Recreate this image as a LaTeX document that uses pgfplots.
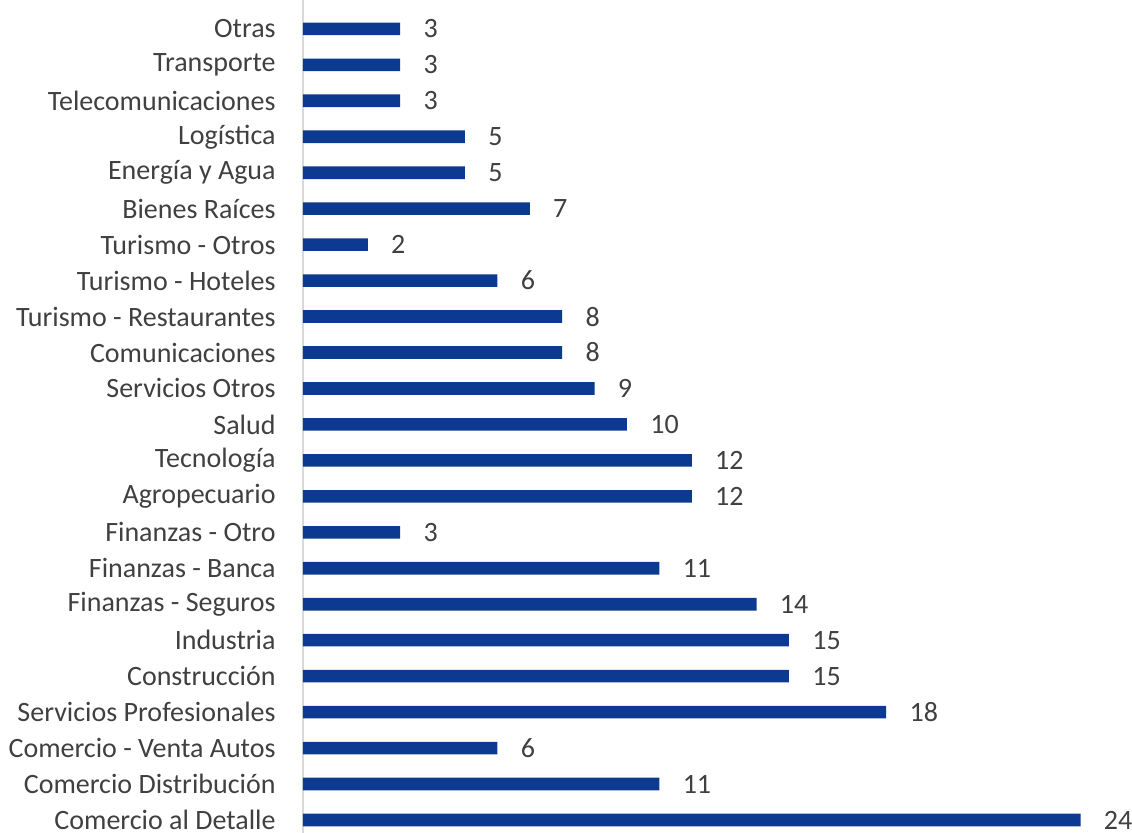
\documentclass[border=0pt]{standalone}
\usepackage{fontspec}
\setmainfont{Carlito}
\usepackage{pgfplots}
\pgfplotsset{compat=1.18}
\definecolor{barblue}{RGB}{12,58,145}
\definecolor{txtgray}{RGB}{64,64,64}
\definecolor{axgray}{RGB}{217,217,217}
\begin{document}
\begin{tikzpicture}
\begin{axis}[
    at={(0,0)}, anchor=origin,
    x=16.2pt, y=17.98pt,
    xmin=0, xmax=25.5,
    ymin=-0.35, ymax=22.8,
    xbar, bar width=6.3pt,
    axis x line=none,
    axis y line*=left,
    axis line style={axgray, line width=0.8pt, -},
    ytick={0,...,22},
    major tick length=0pt,
    /pgf/number format/assume math mode=true,
    yticklabels={Comercio al Detalle, Comercio Distribución, Comercio - Venta Autos, Servicios Profesionales, Construcción, Industria, Finanzas - Seguros, Finanzas - Banca, Finanzas - Otro, Agropecuario, Tecnología, Salud, Servicios Otros, Comunicaciones, Turismo - Restaurantes, Turismo - Hoteles, Turismo - Otros, Bienes Raíces, Energía y Agua, Logística, Telecomunicaciones, Transporte, Otras},
    yticklabel style={font=\fontsize{14}{16}\selectfont, text=txtgray, inner sep=0pt, anchor=east, xshift=-13.5pt},
    nodes near coords,
    every node near coord/.append style={font=\fontsize{14}{16}\selectfont, text=txtgray, anchor=west, inner sep=0pt, xshift=11.5pt},
    clip=false,
]
\addplot[fill=barblue, draw=none] coordinates {
    (24,0) (11,1) (6,2) (18,3) (15,4) (15,5) (14,6) (11,7) (3,8) (12,9) (12,10)
    (10,11) (9,12) (8,13) (8,14) (6,15) (2,16) (7,17) (5,18) (5,19) (3,20) (3,21) (3,22)
};
\end{axis}
\pgfresetboundingbox
\path[use as bounding box] (-151.5pt,-6.5pt) rectangle (414.5pt,410pt);
\end{tikzpicture}
\end{document}
